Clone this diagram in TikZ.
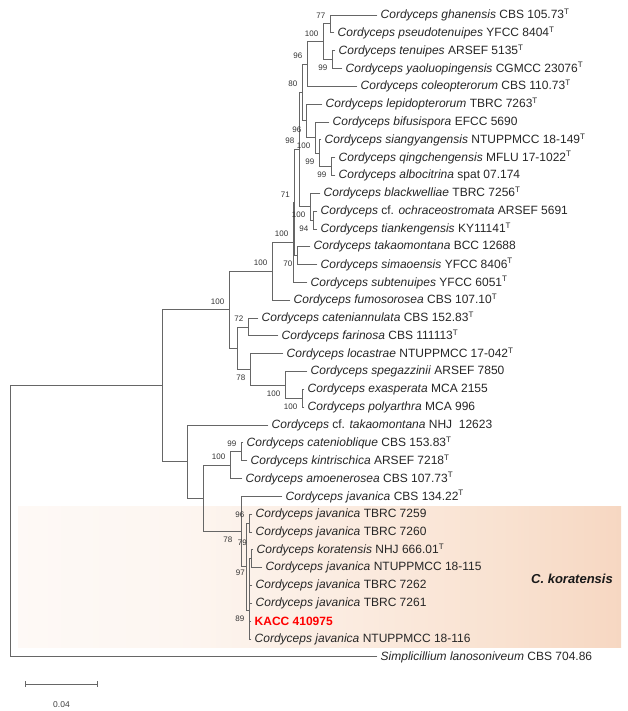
\documentclass[tikz,border=0pt]{standalone}
\usepackage{fontspec}
\setmainfont{Liberation Sans}
\usetikzlibrary{positioning}
\usetikzlibrary{arrows.meta}
\newcommand{\typ}{\textsuperscript{T}}
\definecolor{peachA}{RGB}{253,246,241}
\definecolor{peachB}{RGB}{249,226,209}
\definecolor{peachC}{RGB}{243,201,174}
\definecolor{peachD}{RGB}{238,182,146}
\pgfdeclarehorizontalshading{koraband}{100bp}{color(0bp)=(white); color(38bp)=(peachA); color(65bp)=(peachB); color(88bp)=(peachC); color(100bp)=(peachD)}
\tikzset{branch/.style={draw=black!60, line width=0.95pt, line cap=rect}}
\tikzset{taxon/.style={anchor=west, inner sep=3.5pt, text=black!85, font=\fontsize{12}{14}\selectfont}}
\tikzset{bsup/.style={anchor=south east, inner sep=0.5pt, xshift=-4pt, yshift=5pt, text=black!80, font=\fontsize{8}{9}\selectfont}}
\tikzset{bsdn/.style={anchor=north east, inner sep=0.5pt, xshift=-4pt, yshift=-5pt, text=black!80, font=\fontsize{8}{9}\selectfont}}

\begin{document}
\begin{tikzpicture}[x=1pt, y=-1pt]
\useasboundingbox (0,0) rectangle (628,711);
\shade[shading=koraband] (18,506) rectangle (621,647);

% inner nodes
\coordinate (nA) at (330,23.9);
\coordinate (nC) at (332,59.6);
\coordinate (nB) at (323,41.8);
\coordinate (n96a) at (307,64.0);
\coordinate (nR) at (331,166.6);
\coordinate (nQ) at (319,153.2);
\coordinate (nP) at (315,137.6);
\coordinate (n96b) at (306,120.9);
\coordinate (nZ) at (302,92.5);
\coordinate (nV) at (313,220.0);
\coordinate (nW) at (310,206.7);
\coordinate (nS) at (299,149.6);
\coordinate (nN) at (297,255.7);
\coordinate (nM) at (294.5,202.7);
\coordinate (nL) at (293,242.6);
\coordinate (nK) at (272,271.5);
\coordinate (n72) at (248,327.0);
\coordinate (nZ3) at (302,398.4);
\coordinate (nZ2) at (285,385.0);
\coordinate (nY) at (250,369.4);
\coordinate (nX) at (237,348.2);
\coordinate (nJ) at (229,309.9);
\coordinate (nEE) at (241,451.9);
\coordinate (nCC) at (230,465.2);
\coordinate (nKK) at (251.5,558.8);
\coordinate (nHH) at (249.5,581.1);
\coordinate (n89) at (249,610.1);
\coordinate (nGG) at (249,523.2);
\coordinate (nFF) at (246.5,566.6);
\coordinate (nDD) at (241,531.5);
\coordinate (nBB) at (203,498.4);
\coordinate (nAA) at (187,461.7);
\coordinate (nI) at (162,385.8);
\coordinate (nRoot) at (10,521.4);

% taxa
\node[taxon] (ghanensis) at (377,15.0) {\textit{Cordyceps ghanensis} CBS 105.73\typ};
\node[taxon] (pseudotenuipes) at (334,32.8) {\textit{Cordyceps pseudotenuipes} YFCC 8404\typ};
\node[taxon] (tenuipes) at (335,50.7) {\textit{Cordyceps tenuipes} ARSEF 5135\typ};
\node[taxon] (yaoluo) at (342,68.5) {\textit{Cordyceps yaoluopingensis} CGMCC 23076\typ};
\node[taxon] (coleop) at (357,86.3) {\textit{Cordyceps coleopterorum} CBS 110.73\typ};
\node[taxon] (lepido) at (322,104.2) {\textit{Cordyceps lepidopterorum} TBRC 7263\typ};
\node[taxon] (bifus) at (329,122.0) {\textit{Cordyceps bifusispora} EFCC 5690};
\node[taxon] (siang) at (321,139.8) {\textit{Cordyceps siangyangensis} NTUPPMCC 18-149\typ};
\node[taxon] (qing) at (335,157.6) {\textit{Cordyceps qingchengensis} MFLU 17-1022\typ};
\node[taxon] (albo) at (335,175.5) {\textit{Cordyceps albocitrina} spat 07.174};
\node[taxon] (black) at (320,193.3) {\textit{Cordyceps blackwelliae} TBRC 7256\typ};
\node[taxon] (ochra) at (317,211.1) {\textit{Cordyceps} cf. \textit{ochraceostromata} ARSEF 5691};
\node[taxon] (tianken) at (317,229.0) {\textit{Cordyceps tiankengensis} KY11141\typ};
\node[taxon] (takao) at (310,246.8) {\textit{Cordyceps takaomontana} BCC 12688};
\node[taxon] (simao) at (317,264.6) {\textit{Cordyceps simaoensis} YFCC 8406\typ};
\node[taxon] (subten) at (307,282.5) {\textit{Cordyceps subtenuipes} YFCC 6051\typ};
\node[taxon] (fumoso) at (290,300.3) {\textit{Cordyceps fumosorosea} CBS 107.10\typ};
\node[taxon] (catann) at (258,318.1) {\textit{Cordyceps cateniannulata} CBS 152.83\typ};
\node[taxon] (farin) at (278,335.9) {\textit{Cordyceps farinosa} CBS 111113\typ};
\node[taxon] (locas) at (283,353.8) {\textit{Cordyceps locastrae} NTUPPMCC 17-042\typ};
\node[taxon] (spega) at (307,371.6) {\textit{Cordyceps spegazzinii} ARSEF 7850};
\node[taxon] (exasp) at (304,389.4) {\textit{Cordyceps exasperata} MCA 2155};
\node[taxon] (polya) at (304,407.3) {\textit{Cordyceps polyarthra} MCA 996};
\node[taxon] (cftakao) at (268,425.1) {\textit{Cordyceps} cf. \textit{takaomontana} NHJ\ \ 12623};
\node[taxon] (catobl) at (243,442.9) {\textit{Cordyceps catenioblique} CBS 153.83\typ};
\node[taxon] (kintr) at (247,460.8) {\textit{Cordyceps kintrischica} ARSEF 7218\typ};
\node[taxon] (amoen) at (242,478.6) {\textit{Cordyceps amoenerosea} CBS 107.73\typ};
\node[taxon] (javcbs) at (282,496.4) {\textit{Cordyceps javanica} CBS 134.22\typ};
\node[taxon] (jav7259) at (252,514.2) {\textit{Cordyceps javanica} TBRC 7259};
\node[taxon] (jav7260) at (252,532.1) {\textit{Cordyceps javanica} TBRC 7260};
\node[taxon] (korat) at (253,549.9) {\textit{Cordyceps koratensis} NHJ 666.01\typ};
\node[taxon] (jav115) at (262,567.7) {\textit{Cordyceps javanica} NTUPPMCC 18-115};
\node[taxon] (jav7262) at (252,585.6) {\textit{Cordyceps javanica} TBRC 7262};
\node[taxon] (jav7261) at (252,603.4) {\textit{Cordyceps javanica} TBRC 7261};
\node[taxon, text=red, font=\fontsize{12}{14}\selectfont\bfseries] (kacc) at (251,621.2) {KACC 410975};
\node[taxon] (jav116) at (251,639.1) {\textit{Cordyceps javanica} NTUPPMCC 18-116};
\node[taxon] (simpl) at (377,656.9) {\textit{Simplicillium lanosoniveum} CBS 704.86};

% branches
\draw[branch] (nB) |- (nA) (nB) |- (nC);
\draw[branch] (nA) |- (ghanensis.west) (nA) |- (pseudotenuipes.west);
\draw[branch] (nC) |- (tenuipes.west) (nC) |- (yaoluo.west);
\draw[branch] (n96a) |- (nB) (n96a) |- (coleop.west);
\draw[branch] (nZ) |- (n96a) (nZ) |- (n96b);
\draw[branch] (n96b) |- (lepido.west) (n96b) |- (nP);
\draw[branch] (nP) |- (bifus.west) (nP) |- (nQ);
\draw[branch] (nQ) |- (siang.west) (nQ) |- (nR);
\draw[branch] (nR) |- (qing.west) (nR) |- (albo.west);
\draw[branch] (nS) |- (nZ) (nS) |- (nW);
\draw[branch] (nW) |- (black.west) (nW) |- (nV);
\draw[branch] (nV) |- (ochra.west) (nV) |- (tianken.west);
\draw[branch] (nM) |- (nS) (nM) |- (nN);
\draw[branch] (nN) |- (takao.west) (nN) |- (simao.west);
\draw[branch] (nL) |- (nM) (nL) |- (subten.west);
\draw[branch] (nK) |- (nL) (nK) |- (fumoso.west);
\draw[branch] (nJ) |- (nK) (nJ) |- (nX);
\draw[branch] (nX) |- (n72) (nX) |- (nY);
\draw[branch] (n72) |- (catann.west) (n72) |- (farin.west);
\draw[branch] (nY) |- (locas.west) (nY) |- (nZ2);
\draw[branch] (nZ2) |- (spega.west) (nZ2) |- (nZ3);
\draw[branch] (nZ3) |- (exasp.west) (nZ3) |- (polya.west);
\draw[branch] (nI) |- (nJ) (nI) |- (nAA);
\draw[branch] (nAA) |- (cftakao.west) (nAA) |- (nBB);
\draw[branch] (nBB) |- (nCC) (nBB) |- (nDD);
\draw[branch] (nCC) |- (nEE) (nCC) |- (amoen.west);
\draw[branch] (nEE) |- (catobl.west) (nEE) |- (kintr.west);
\draw[branch] (nDD) |- (javcbs.west) (nDD) |- (nFF);
\draw[branch] (nFF) |- (nGG) (nFF) |- (n89);
\draw[branch] (nGG) |- (jav7259.west) (nGG) |- (jav7260.west);
\draw[branch] (n89) |- (nHH) (n89) |- (kacc.west) (n89) |- (jav116.west);
\draw[branch] (nHH) |- (nKK) (nHH) |- (jav7262.west) (nHH) |- (jav7261.west);
\draw[branch] (nKK) |- (korat.west) (nKK) |- (jav115.west);
\draw[branch] (nRoot) |- (nI) (nRoot) |- (simpl.west);

% bootstrap values
\node[bsup] (bsA) at (nA) {77};
\node[bsdn] (bsC) at (nC) {99};
\node[bsup] (bsB) at (nB) {100};
\node[bsup] (bs96a) at (n96a) {96};
\node[bsdn] (bs96b) at (n96b) {96};
\node[bsdn] (bsP) at (nP) {100};
\node[bsdn] (bsQ) at (nQ) {99};
\node[bsdn] (bsR) at (nR) {99};
\node[bsup] (bsZ) at (nZ) {80};
\node[bsup] (bsS) at (nS) {98};
\node[bsdn] (bsW) at (nW) {100};
\node[bsdn] (bsV) at (nV) {94};
\node[bsdn] (bsN) at (nN) {70};
\node[bsup] (bsM) at (nM) {71};
\node[bsup] (bsL) at (nL) {100};
\node[bsup] (bsK) at (nK) {100};
\node[bsup] (bsJ) at (nJ) {100};
\node[bsup] (bs72) at (n72) {72};
\node[bsdn] (bsY) at (nY) {78};
\node[bsdn] (bsZ2) at (nZ2) {100};
\node[bsdn] (bsZ3) at (nZ3) {100};
\node[bsup] (bsEE) at (nEE) {99};
\node[bsup] (bsCC) at (nCC) {100};
\node[bsdn, xshift=-4pt] (bsDD) at (nDD) {78};
\node[bsup] (bsGG) at (nGG) {96};
\node[bsup, yshift=8pt] (bsKK) at (nKK) {79};
\node[bsup] (bsHH) at (nHH) {97};
\node[bsdn] (bs89) at (n89) {89};

% clade label
\node[font=\fontsize{13}{15}\selectfont\bfseries\itshape, text=black!90] (clade) at (572,579) {C. koratensis};

% scale bar
\coordinate (sbL) at (25,684);
\coordinate (sbR) at (98,684);
\draw[branch, line cap=butt, {Bar[width=6pt]}-{Bar[width=6pt]}] (sbL) -- (sbR);
\node[font=\fontsize{8.5}{10}\selectfont, text=black!75] (sbtext) at (61.5,705) {0.04};
\end{tikzpicture}
\end{document}
